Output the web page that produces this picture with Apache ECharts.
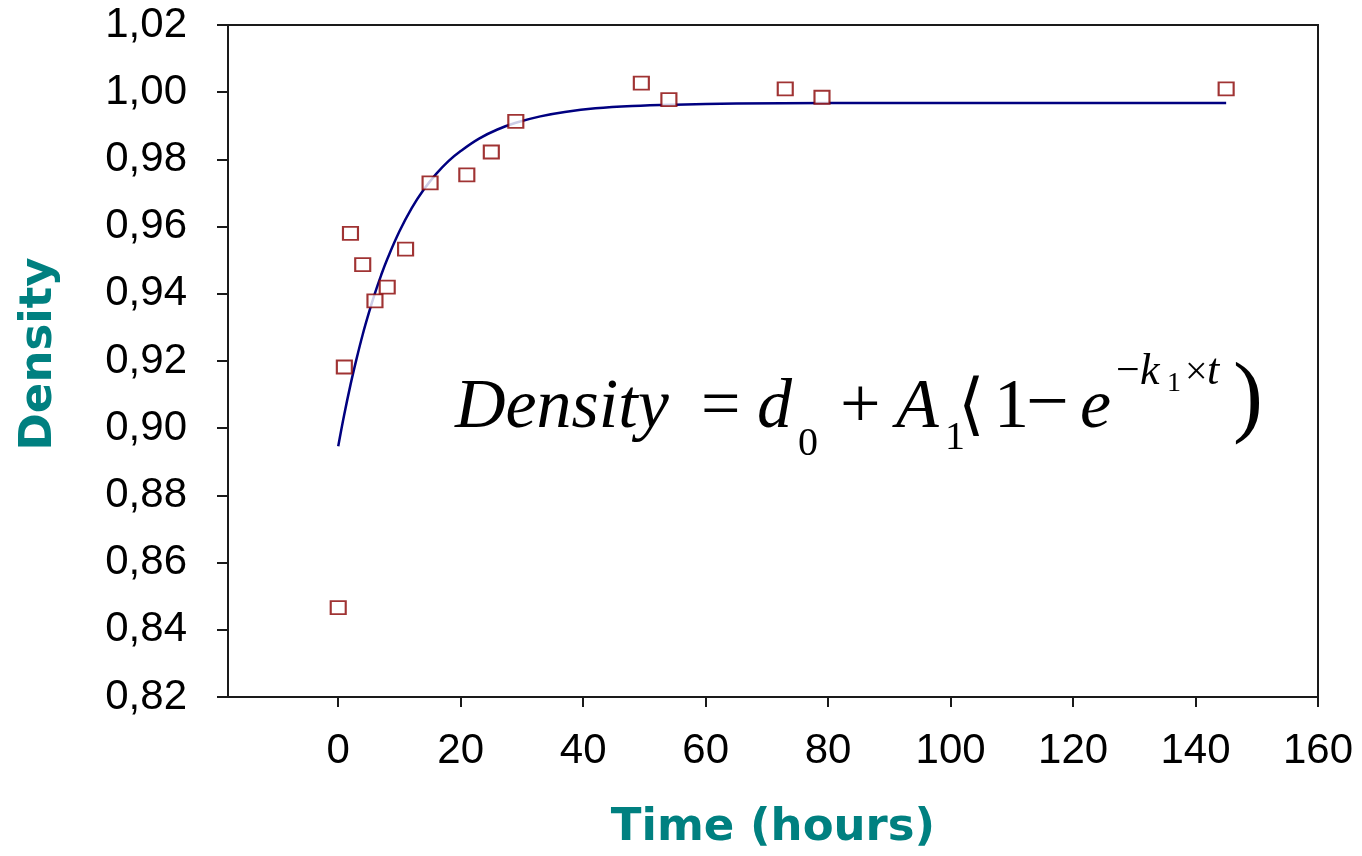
<!DOCTYPE html>
<html>
<head>
<meta charset="utf-8">
<title>Density vs time</title>
<script src="https://cdn.jsdelivr.net/npm/echarts@6/dist/echarts.min.js"></script>
<style>
  html, body { margin: 0; padding: 0; background: #fff; }
  #chart { width: 1362px; height: 856px; }
</style>
</head>
<body>
<div id="chart"></div>
<script>
// Measured density over time (hours)
const timeHours = [0, 1, 2, 4, 6, 8, 11, 15, 21, 25, 29, 49.5, 54, 73, 79, 145];
const density   = [0.8466, 0.9182, 0.958, 0.9487, 0.9379, 0.942, 0.9533, 0.973, 0.9754, 0.9822, 0.9913, 1.0027, 0.9978, 1.001, 0.9985, 1.001];

// Fitted curve d0 + A1(1 - e^(-k1 t)), sampled points
const fitTime    = [0, 1, 2, 3, 4, 5, 6, 7, 8, 10, 12, 14, 16, 18, 20, 23, 26, 29, 33, 37, 42, 48, 55, 65, 80, 100, 120, 145];
const fitDensity = [0.8946, 0.9042, 0.9129, 0.9207, 0.9279, 0.9343, 0.9402, 0.9455, 0.9503, 0.9586, 0.9655, 0.9711, 0.9757, 0.9795, 0.9825, 0.9862, 0.9889, 0.9909, 0.9928, 0.9941, 0.9952, 0.9959, 0.9963, 0.9966, 0.9968, 0.9968, 0.9968, 0.9968];

// Axis ticks
const xTicks = [0, 20, 40, 60, 80, 100, 120, 140, 160];
const xRange = [-18, 160];
const yRange = [0.82, 1.02];
const yStep = 0.02;

const chart = echarts.init(document.getElementById('chart'));

// Equation annotation pieces: [text, left x, baseline y, font size, italic]
const SERIF = '"Liberation Serif", "Times New Roman", "DejaVu Serif", serif';
const eqPieces = [
  ['Density', 455, 432, 70, true],
  ['=', 701, 432, 70, false],
  ['d', 757, 432, 70, true],
  ['0', 798, 458, 40, false],
  ['+', 840, 432, 72, false],
  ['A', 896, 432, 70, true],
  ['1', 945, 452, 40, false],
  ['\u27E8', 958, 432, 68, false],
  ['1', 994, 432, 70, false],
  ['\u2212', 1026, 432, 76, false],
  ['e', 1080, 432, 70, true],
  ['\u2212', 1116, 386, 42, false],
  ['k', 1140, 387, 44, true],
  ['1', 1167, 393, 28, false],
  ['\u00D7', 1185, 387, 40, false],
  ['t', 1207, 387, 44, true],
  [')', 1233, 432, 90, false]
];
const eqGraphics = eqPieces.map(function (p) {
  return {
    type: 'text',
    x: p[1],
    y: p[2] - 0.3375 * p[3],
    z: 10,
    style: {
      text: p[0],
      font: (p[4] ? 'italic ' : '') + p[3] + 'px ' + SERIF,
      fill: '#000',
      align: 'left',
      verticalAlign: 'middle'
    }
  };
});

const titleStyle = {
  fontFamily: '"DejaVu Sans", "Liberation Sans", Arial, sans-serif',
  fontWeight: 'bold',
  fontSize: 45,
  color: '#008080'
};

chart.setOption({
  animation: false,
  backgroundColor: '#fff',
  grid: {
    left: 228, right: 44, top: 25, bottom: 158,
    show: true,
    borderColor: '#1a1a1a',
    borderWidth: 2,
    backgroundColor: 'transparent'
  },
  xAxis: {
    type: 'value',
    min: xRange[0],
    max: xRange[1],
    name: 'Time (hours)',
    nameLocation: 'middle',
    nameGap: 109,
    nameTextStyle: titleStyle,
    splitLine: { show: false },
    axisLine: { onZero: false, lineStyle: { color: '#1a1a1a', width: 2 } },
    axisTick: { customValues: xTicks, length: 10, lineStyle: { color: '#1a1a1a', width: 2 } },
    axisLabel: {
      customValues: xTicks,
      margin: 33,
      fontFamily: '"Liberation Sans", Arial, sans-serif',
      fontSize: 42,
      color: '#000'
    }
  },
  yAxis: {
    type: 'value',
    min: yRange[0],
    max: yRange[1],
    interval: yStep,
    name: 'Density',
    nameLocation: 'middle',
    nameRotate: 90,
    nameGap: 166,
    nameTextStyle: Object.assign({ padding: [0, 0, 0, 14] }, titleStyle),
    splitLine: { show: false },
    axisLine: { show: true, onZero: false, lineStyle: { color: '#1a1a1a', width: 2 } },
    axisTick: { show: true, length: 11, lineStyle: { color: '#1a1a1a', width: 2 } },
    axisLabel: {
      margin: 41,
      fontFamily: '"Liberation Sans", Arial, sans-serif',
      fontSize: 42,
      color: '#000',
      formatter: function (v) { return v.toFixed(2).replace('.', ','); }
    }
  },
  graphic: eqGraphics,
  series: [
    {
      name: 'Fit',
      type: 'line',
      data: fitTime.map(function (t, i) { return [t, fitDensity[i]]; }),
      showSymbol: false,
      smooth: 0.4,
      lineStyle: { color: '#000080', width: 2.5 },
      z: 2
    },
    {
      name: 'Density',
      type: 'scatter',
      data: timeHours.map(function (t, i) { return [t, density[i]]; }),
      symbol: 'rect',
      symbolSize: [15, 13],
      itemStyle: { color: '#fff', borderColor: '#880000', borderWidth: 2 },
      z: 3
    }
  ]
});
</script>
</body>
</html>
